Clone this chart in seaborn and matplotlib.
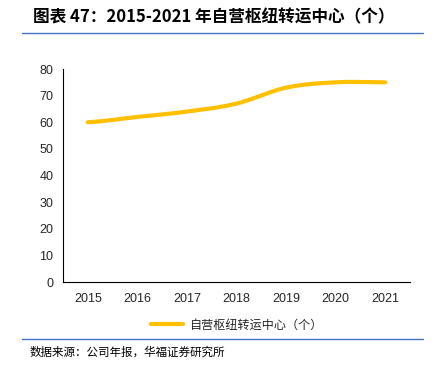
import matplotlib
matplotlib.use('Agg')
import matplotlib.pyplot as plt
import numpy as np
import pandas as pd
import seaborn as sns

years = ['2015', '2016', '2017', '2018', '2019', '2020', '2021']
centers = [60, 62, 64, 67, 73, 75, 75]
series_name = '自营枢纽转运中心（个）'
title = '图表 47：2015-2021 年自营枢纽转运中心（个）'
source = '数据来源：公司年报，华福证券研究所'


def smooth(y, n=30):
    # Catmull-Rom style smoothing, like a "smoothed line" in office charts
    y = np.asarray(y, dtype=float)
    p = np.concatenate([[y[0]], y, [y[-1]]])
    xs, ys = [], []
    for i in range(len(y) - 1):
        p0, p1, p2, p3 = p[i], p[i + 1], p[i + 2], p[i + 3]
        t = np.linspace(0, 1, n, endpoint=False)
        v = 0.5 * ((2 * p1) + (-p0 + p2) * t + (2 * p0 - 5 * p1 + 4 * p2 - p3) * t ** 2
                   + (-p0 + 3 * p1 - 3 * p2 + p3) * t ** 3)
        xs.append(i + t)
        ys.append(v)
    xs.append([len(y) - 1])
    ys.append([y[-1]])
    return np.concatenate(xs), np.concatenate(ys)


sns.set_style('white')
plt.rcParams['font.family'] = ['Liberation Sans', 'Noto Sans CJK SC', 'DejaVu Sans']

sx, sy = smooth(centers)
df = pd.DataFrame({'x': sx, 'value': sy})

fig = plt.figure(figsize=(4.41, 3.70), dpi=100)
ax = fig.add_axes([0.1429, 0.2378, 0.7868, 0.5757])
sns.lineplot(data=df, x='x', y='value', ax=ax, color='#FFC000', linewidth=3, label=series_name)

ax.set_xlim(-0.5, len(years) - 0.5)
ax.set_ylim(0, 80)
ax.set_yticks(range(0, 81, 10))
ax.set_xticks(range(len(years)))
ax.set_xticklabels(years)
ax.set_xticks(np.arange(-0.5, len(years), 1), minor=True)
ax.tick_params(axis='x', which='major', length=0, labelsize=9, pad=8)
ax.tick_params(axis='x', which='minor', length=3, width=0.8, color='black', direction='out')
ax.tick_params(axis='y', length=3, width=0.8, color='black', direction='out', labelsize=9, pad=4)
ax.set_xlabel('')
ax.set_ylabel('')
for s in ['top', 'right']:
    ax.spines[s].set_visible(False)
for s in ['left', 'bottom']:
    ax.spines[s].set_color('black')
    ax.spines[s].set_linewidth(0.8)

leg = ax.legend(loc='upper center', bbox_to_anchor=(0.5, -0.12), frameon=False,
                handlelength=2.6, handletextpad=0.5,
                prop={'family': ['Noto Sans CJK SC'], 'size': 8.7})
for line in leg.get_lines():
    line.set_linewidth(3)

fig.text(0.075, 0.952, title, fontsize=12, fontweight='bold', fontstyle='italic',
         family=['Noto Sans CJK SC'], va='center', ha='left', color='black')
fig.add_artist(plt.Line2D([0.05, 0.96], [0.911, 0.911], color='#4472C4', linewidth=1))
fig.add_artist(plt.Line2D([0.05, 0.96], [0.084, 0.084], color='#4472C4', linewidth=1))
fig.text(0.068, 0.048, source, fontsize=8.3, family=['Noto Sans CJK SC'],
         va='center', ha='left', color='black')

fig.savefig('out.png', dpi=100)
